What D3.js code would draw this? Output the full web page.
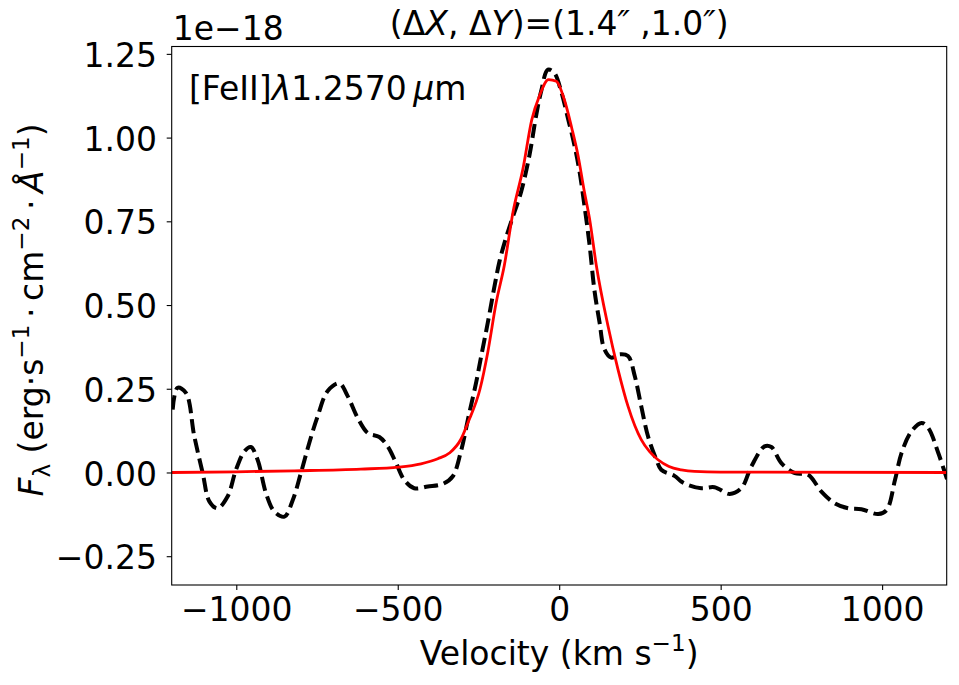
<!DOCTYPE html>
<html>
<head>
<meta charset="utf-8">
<script src="https://cdn.jsdelivr.net/npm/d3@7"></script>
<style>
  body { margin: 0; background: #fff; }
  text { font-family: "DejaVu Sans"; fill: #000; }
</style>
</head>
<body>
<svg></svg>
<script>
const width = 959;
const height = 685;

// observed spectrum (dashed black), velocity in km/s, flux in 1e-18
const velObs = [-1197, -1182, -1156, -1130, -1104, -1083, -1058, -1027, -1001, -975,
  -955, -934, -908, -882, -851, -825, -800, -774, -748, -717,
  -681, -655, -624, -593, -557, -531, -505, -480, -449, -407,
  -360, -330, -305, -280, -257, -242, -221, -200, -185, -165,
  -143, -118, -92, -71, -56, -35, -15, 6, 27, 47,
  63, 78, 94, 109, 125, 140, 161, 187, 213, 234,
  254, 275, 301, 316, 357, 378, 399, 440, 481, 528,
  564, 595, 636, 657, 688, 730, 771, 812, 853, 895,
  936, 988, 1014, 1040, 1060, 1091, 1122, 1143, 1174, 1205];
const fluxObs = [0.188, 0.253, 0.238, 0.108, -0.002, -0.087, -0.107, -0.072, 0.008, 0.063,
  0.076, 0.038, -0.062, -0.117, -0.132, -0.082, -0.002, 0.088, 0.168, 0.243,
  0.266, 0.228, 0.163, 0.118, 0.106, 0.078, 0.028, -0.022, -0.047, -0.042,
  -0.034, -0.012, 0.06, 0.17, 0.27, 0.345, 0.448, 0.558, 0.63, 0.70,
  0.765, 0.838, 0.948, 1.068, 1.138, 1.203, 1.193, 1.138, 1.058, 0.978,
  0.898, 0.798, 0.68, 0.545, 0.448, 0.368, 0.343, 0.353, 0.348, 0.288,
  0.198, 0.108, 0.038, 0.008, -0.01, -0.027, -0.037, -0.047, -0.044, -0.064,
  -0.047, 0.018, 0.078, 0.076, 0.028, -0.002, -0.007, -0.057, -0.092, -0.107,
  -0.110, -0.124, -0.112, -0.022, 0.058, 0.123, 0.148, 0.133, 0.058, -0.032];

// fitted profile (solid red)
const velFit = [-1200, -1000, -820, -614, -498, -428, -376, -340, -304, -283,
  -245, -221, -195, -170, -143, -112, -85, -61, -33, -9,
  16, 39, 58, 78, 94, 115, 151, 182, 213, 254,
  280, 306, 340, 378, 419, 500, 1200];
const fluxFit = [0.000, 0.002, 0.005, 0.010, 0.016, 0.026, 0.041, 0.058, 0.100, 0.148,
  0.250, 0.360, 0.508, 0.618, 0.778, 0.908, 1.053, 1.125, 1.173, 1.168,
  1.113, 1.028, 0.948, 0.838, 0.758, 0.618, 0.438, 0.308, 0.198, 0.098,
  0.062, 0.038, 0.018, 0.008, 0.003, 0.001, 0.000];

const xTicks = [-1000, -500, 0, 500, 1000];
const yTicks = [-0.25, 0, 0.25, 0.5, 0.75, 1.0, 1.25];

const plot = { left: 171.7, right: 946.7, top: 46.5, bottom: 585 };
const fontSize = 33;

let svg = d3.select("svg").attr("width", width).attr("height", height);

const x = d3.scaleLinear().domain([-1200, 1200]).range([plot.left, plot.right]);
const y = d3.scaleLinear().domain([-0.336, 1.272]).range([plot.bottom, plot.top]);

svg.append("clipPath").attr("id", "clip")
  .append("rect")
  .attr("x", plot.left).attr("y", plot.top)
  .attr("width", plot.right - plot.left).attr("height", plot.bottom - plot.top);

// lines
const line = d3.line().x(d => x(d[0])).y(d => y(d[1]));

svg.append("path")
  .attr("clip-path", "url(#clip)")
  .attr("d", line.curve(d3.curveCatmullRom)(d3.zip(velObs, fluxObs)))
  .attr("fill", "none")
  .attr("stroke", "#000")
  .attr("stroke-width", 4)
  .attr("stroke-dasharray", "14,6");

svg.append("path")
  .attr("clip-path", "url(#clip)")
  .attr("d", line.curve(d3.curveMonotoneX)(d3.zip(velFit, fluxFit)))
  .attr("fill", "none")
  .attr("stroke", "#ff0000")
  .attr("stroke-width", 2.8);

// axes
const xAxis = svg.append("g")
  .attr("transform", `translate(0,${plot.bottom})`)
  .call(d3.axisBottom(x).tickValues(xTicks).tickFormat(d3.format("d"))
    .tickSize(5).tickSizeOuter(0).tickPadding(7.5));
const yAxis = svg.append("g")
  .attr("transform", `translate(${plot.left},0)`)
  .call(d3.axisLeft(y).tickValues(yTicks).tickFormat(d3.format(".2f"))
    .tickSize(5).tickSizeOuter(0).tickPadding(9.7));

[xAxis, yAxis].forEach(a => {
  a.select(".domain").remove();
  a.selectAll(".tick line").attr("stroke", "#000").attr("stroke-width", 1.1);
  a.selectAll(".tick text")
    .attr("fill", "#000")
    .style("font-family", "DejaVu Sans")
    .style("font-size", fontSize + "px");
});
yAxis.selectAll(".tick text").attr("dy", "0.38em");

svg.append("rect")
  .attr("x", plot.left).attr("y", plot.top)
  .attr("width", plot.right - plot.left).attr("height", plot.bottom - plot.top)
  .attr("fill", "none").attr("stroke", "#000").attr("stroke-width", 1.1);

// rich text helper: parts are [text, kind] with kind "", "i", "sup", "sub"
function richText(g, parts) {
  let state = 0; // current baseline offset in px
  parts.forEach(([t, kind]) => {
    const span = g.append("tspan").text(t);
    let shift = 0;
    if (kind === "sup") shift = -0.42 * fontSize;
    if (kind === "sub") shift = 0.22 * fontSize;
    span.attr("dy", shift - state);
    state = shift;
    if (kind === "sup" || kind === "sub") span.style("font-size", (fontSize * 0.7) + "px");
    if (kind === "i") span.style("font-style", "italic");
  });
}

// title
const title = svg.append("text")
  .attr("x", (plot.left + plot.right) / 2).attr("y", 35)
  .attr("text-anchor", "middle")
  .style("font-size", fontSize + "px");
richText(title, [["(Δ", ""], ["X", "i"], [", Δ", ""], ["Y", "i"], [")=(1.4", ""], ["″", "i"], [" ,1.0", ""], ["″", "i"], [")", ""]]);

// offset text
svg.append("text")
  .attr("x", plot.left + 1).attr("y", 40)
  .style("font-size", fontSize + "px")
  .text("1e\u221218");

// line label
const lab = svg.append("text")
  .attr("x", 189).attr("y", 100)
  .style("font-size", fontSize + "px");
richText(lab, [["[FeII]", ""], ["λ", "i"], ["1.2570\u2009", ""], ["μ", "i"], ["m", ""]]);

// x label
const xl = svg.append("text")
  .attr("x", (plot.left + plot.right) / 2).attr("y", 665)
  .attr("text-anchor", "middle")
  .style("font-size", fontSize + "px");
richText(xl, [["Velocity (km s", ""], ["\u22121", "sup"], [")", ""]]);

// y label
const yl = svg.append("text")
  .attr("transform", `translate(43,${310}) rotate(-90)`)
  .attr("text-anchor", "middle")
  .style("font-size", fontSize + "px");
richText(yl, [["F", "i"], ["λ", "sub"], [" (erg·s", ""], ["\u22121", "sup"], ["\u2009·\u2009cm", ""],
  ["\u22122", "sup"], ["\u2009·\u2009", ""], ["Å", "i"], ["\u22121", "sup"], [")", ""]]);
</script>
</body>
</html>
